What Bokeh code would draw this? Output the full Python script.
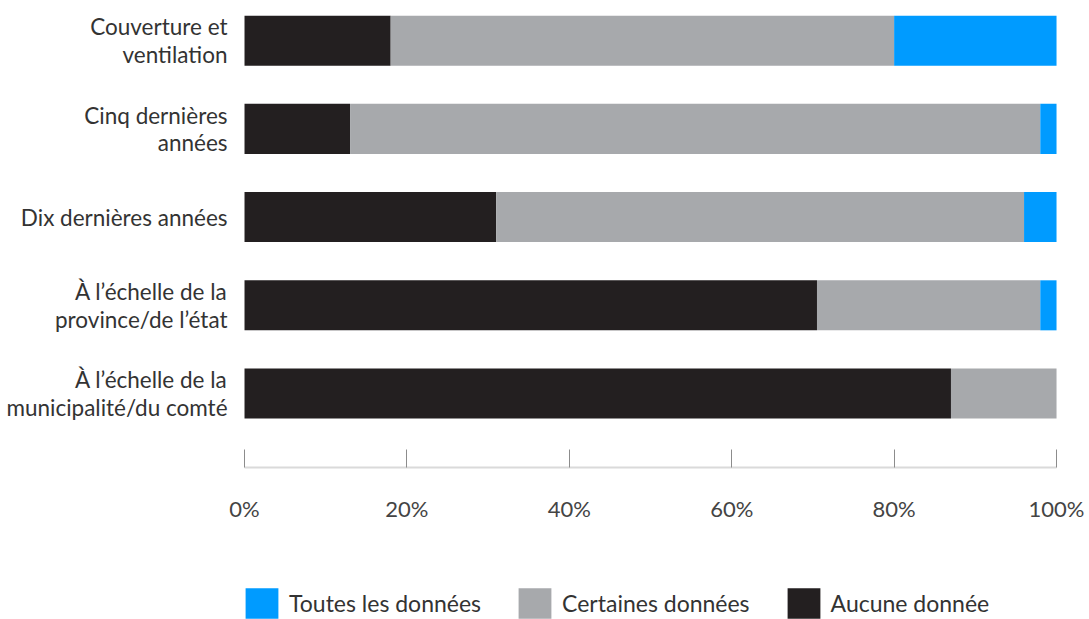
from bokeh.plotting import figure
from bokeh.models import (Range1d, FixedTicker, PrintfTickFormatter, Legend, LegendItem,
                          ColumnDataSource, LinearAxis)
from bokeh.embed import file_html
from bokeh.resources import INLINE

categories = [
    "Couverture et\nventilation",
    "Cinq dernières\nannées",
    "Dix dernières années",
    "À l’échelle de la\nprovince/de l’état",
    "À l’échelle de la\nmunicipalité/du comté",
]
aucune = [18, 13, 31, 70.5, 87]
certaines = [62, 85, 65, 27.5, 13]
toutes = [20, 2, 4, 2, 0]

series_names = ["Aucune donnée", "Certaines données", "Toutes les données"]
colors = ["#231F20", "#A7A9AC", "#009BFF"]
legend_order = ["Toutes les données", "Certaines données", "Aucune donnée"]
x_ticks = [0, 20, 40, 60, 80, 100]

n = len(categories)
ypos = [n - 1 - i for i in range(n)]  # top category first

src = ColumnDataSource(dict(
    y=ypos,
    **{"Aucune donnée": aucune, "Certaines données": certaines, "Toutes les données": toutes},
))

FONT = "Lato"

# frame covers the whole canvas; axes are placed at fixed data locations
p = figure(width=1089, height=619, output_backend="svg", toolbar_location=None,
           x_range=Range1d(-30.05, 104.06), y_range=Range1d(-2.561, 4.455),
           min_border_left=0, min_border_right=0, min_border_top=0,
           min_border_bottom=0, x_axis_location=None, y_axis_location=None)
p.outline_line_color = None
p.xgrid.grid_line_color = None
p.ygrid.grid_line_color = None

renderers = p.hbar_stack(series_names, y="y", height=0.567, color=colors,
                         source=src, line_color=None)
rmap = dict(zip(series_names, renderers))

# x axis
xa = LinearAxis(fixed_location=-0.8385, bounds=(x_ticks[0], x_ticks[-1]))
p.add_layout(xa, "below")
xa.ticker = FixedTicker(ticks=x_ticks)
xa.formatter = PrintfTickFormatter(format="%d%%")
xa.axis_line_color = "#DADADA"
xa.axis_line_width = 2
xa.major_tick_in = 18
xa.major_tick_out = 0
xa.major_tick_line_color = "#8C8C8C"
xa.minor_tick_line_color = None
xa.major_label_text_font = FONT
xa.major_label_text_font_size = "22px"
xa.major_label_text_color = "#444444"
xa.major_label_standoff = 27

# y axis
ya = LinearAxis(fixed_location=0)
p.add_layout(ya, "left")
ya.ticker = FixedTicker(ticks=ypos)
ya.major_label_overrides = {yv: c for yv, c in zip(ypos, categories)}
ya.axis_line_color = None
ya.major_tick_line_color = None
ya.minor_tick_line_color = None
ya.major_label_text_font = FONT
ya.major_label_text_font_size = "22.5px"
ya.major_label_text_color = "#333333"
ya.major_label_text_line_height = 1.02
ya.major_label_standoff = 11

legend = Legend(items=[LegendItem(label=name, renderers=[rmap[name]]) for name in legend_order],
                orientation="horizontal", location=(241, -3),
                glyph_width=41, glyph_height=38, label_height=38,
                label_standoff=7, spacing=33, padding=0, margin=0,
                label_text_font=FONT, label_text_font_size="23px",
                label_text_color="#333333", border_line_color=None,
                background_fill_alpha=0)
p.add_layout(legend, "center")

open("out.html", "w").write(file_html(p, INLINE))
